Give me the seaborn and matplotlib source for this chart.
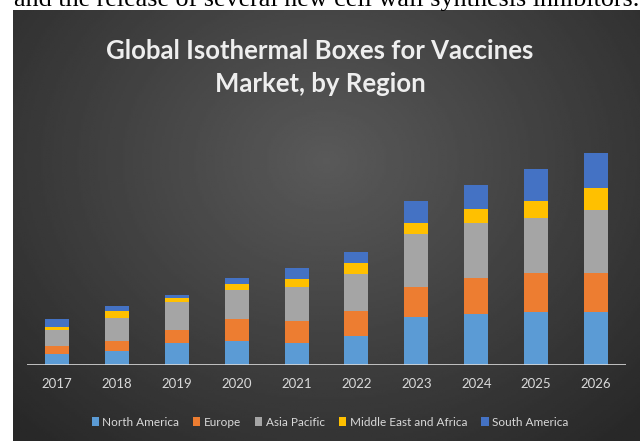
import numpy as np
import pandas as pd
import matplotlib.pyplot as plt
from matplotlib.patches import Patch
import seaborn as sns

# values (same units as the picture, arbitrary)
years = ["2017", "2018", "2019", "2020", "2021", "2022", "2023", "2024", "2025", "2026"]
north_america = [11, 14, 22, 24, 22, 29, 48, 51, 53, 53]
europe = [8, 10, 13, 22, 22, 25, 30, 36, 39, 39]
asia_pacific = [16, 23, 28, 29, 34, 37, 53, 55, 55, 63]
mea = [3, 7, 4, 6, 8, 11, 11, 14, 17, 22]
south_america = [8, 5, 3, 6, 11, 11, 22, 24, 32, 35]

regions = ["North America", "Europe", "Asia Pacific", "Middle East and Africa", "South America"]
colors = ["#5B9BD5", "#ED7D31", "#A5A5A5", "#FFC000", "#4472C4"]

df = pd.DataFrame({
    "year": years,
    "North America": north_america,
    "Europe": europe,
    "Asia Pacific": asia_pacific,
    "Middle East and Africa": mea,
    "South America": south_america,
})
cum = df[regions].cumsum(axis=1)

sns.set_theme(style="white")
plt.rcParams["font.family"] = ["Lato", "DejaVu Sans"]

fig = plt.figure(figsize=(6.4, 4.41), dpi=100)
fig.patch.set_facecolor("white")

# dark gradient backdrop
bg = fig.add_axes([13 / 640, 0, 627 / 640, 431 / 441])
yy, xx = np.mgrid[0:1:200j, 0:1:300j]
r = np.clip(np.sqrt(((xx - 0.5) / 0.7) ** 2 + ((yy - 0.35) / 0.85) ** 2), 0, 1)
shade = 0.35 - 0.19 * r
bg.imshow(shade, cmap="gray", vmin=0, vmax=1, aspect="auto",
          extent=[0, 1, 0, 1], origin="upper")
bg.set_axis_off()

# snippet of text above the chart (cut off in the source too)
fig.text(14 / 640, 1 - 6 / 441, "and the release of several new cell wall synthesis inhibitors.",
         family="Liberation Serif", fontsize=18.8, color="black", va="baseline", ha="left")

ax = fig.add_axes([27 / 640, 76 / 441, 599 / 640, 225 / 441])
ax.patch.set_alpha(0)
for i in reversed(range(len(regions))):
    sns.barplot(x=df["year"], y=cum[regions[i]], color=colors[i], width=0.4,
                saturation=1, linewidth=0, edgecolor="none", ax=ax)
ax.set_xlim(-0.5, 9.5)
ax.set_ylim(0, 225)
ax.axhline(0, color="#d9d9d9", lw=1.2)
for s in ax.spines.values():
    s.set_visible(False)
ax.set_yticks([])
ax.set_xlabel("")
ax.set_ylabel("")
ax.tick_params(axis="x", length=0, pad=9, labelsize=9.5, labelcolor="#d9d9d9")

fig.text(0.5, 1 - 51 / 441, "Global Isothermal Boxes for Vaccines", ha="center", va="center",
         fontsize=18.5, fontweight="bold", color="#eeeeee")
fig.text(0.5, 1 - 84 / 441, "Market, by Region", ha="center", va="center",
         fontsize=18.5, fontweight="bold", color="#eeeeee")

handles = [Patch(facecolor=c, edgecolor="none") for c in colors]
leg = fig.legend(handles, regions, loc="center", bbox_to_anchor=(330 / 640, 19 / 441), ncol=5,
                 frameon=False, fontsize=8.5, handlelength=0.6, handleheight=0.7,
                 handletextpad=0.3, columnspacing=1.2, labelcolor="#d9d9d9")

fig.savefig("out.png", dpi=100)
